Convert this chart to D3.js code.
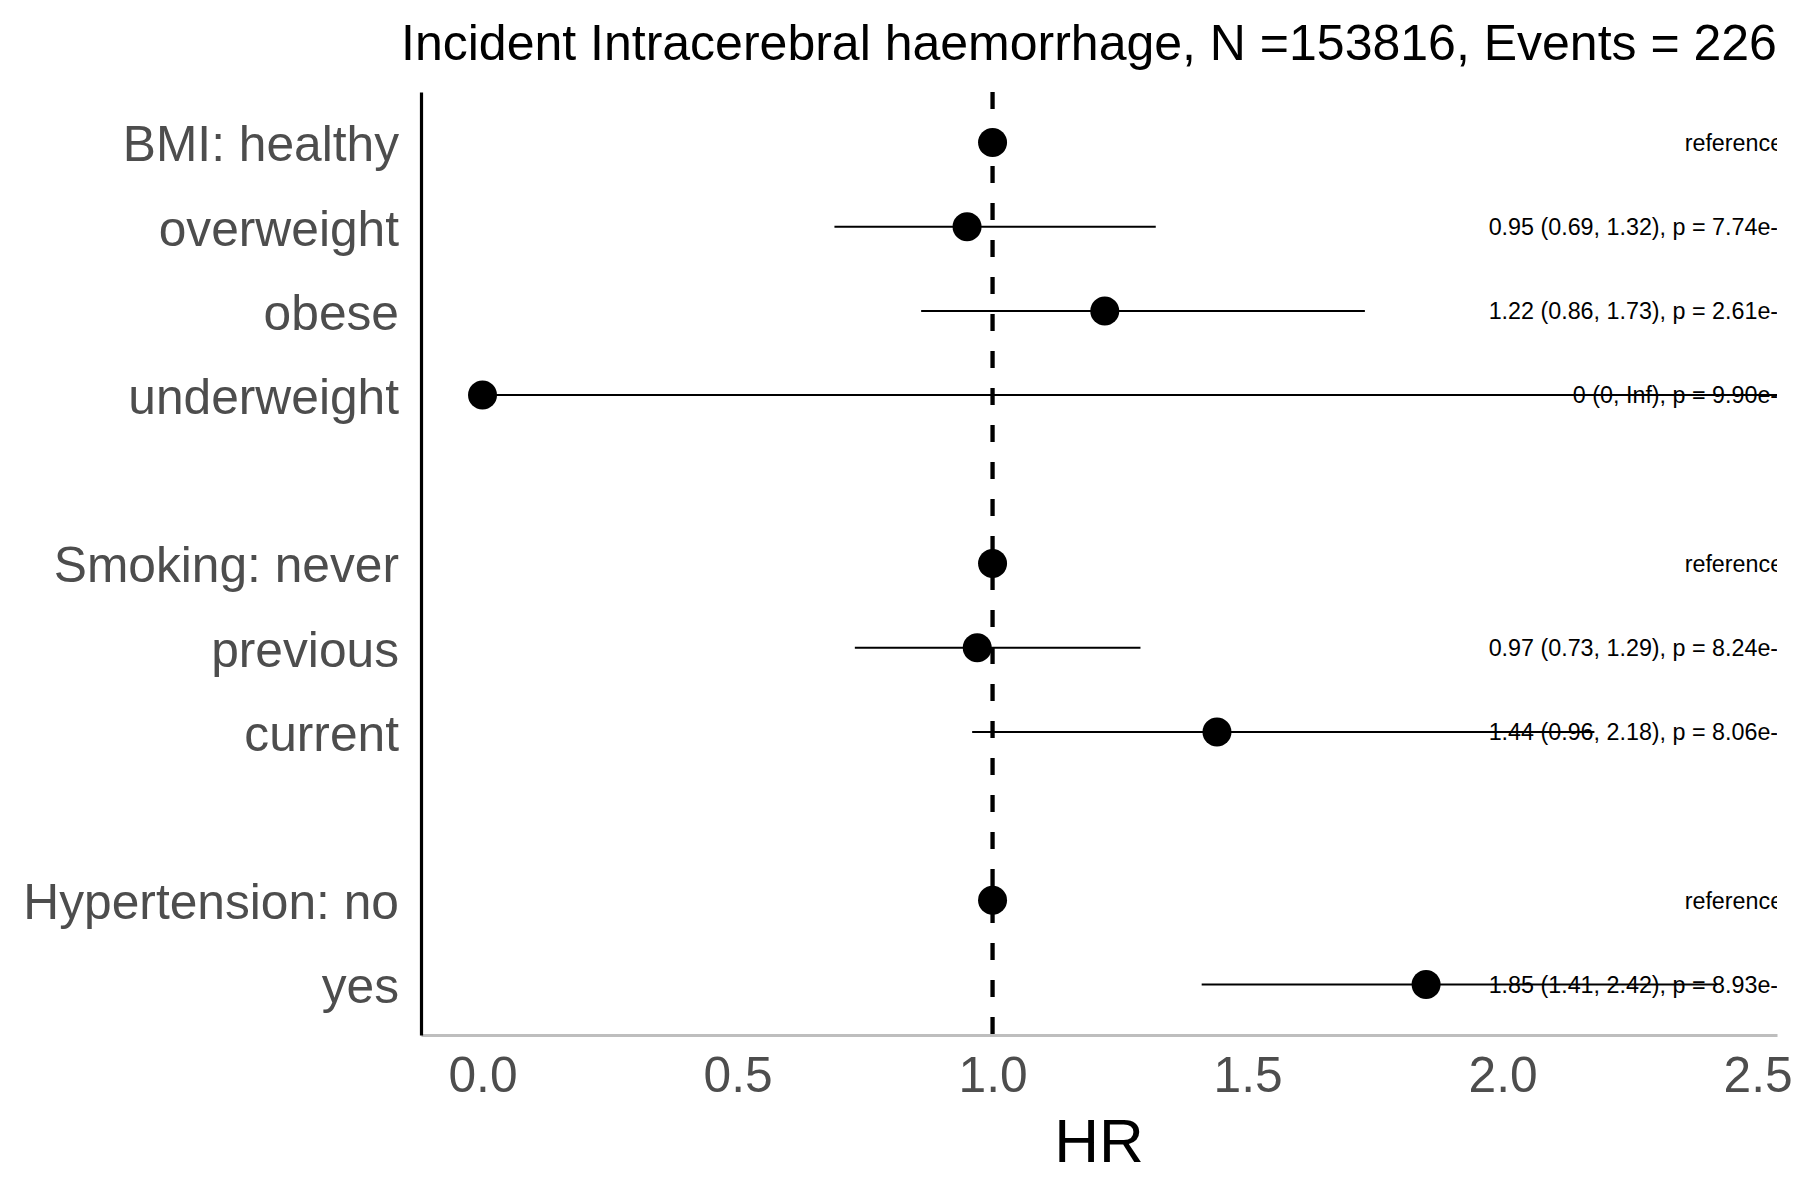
<!DOCTYPE html>
<html>
<head>
<meta charset="utf-8">
<script src="https://cdn.jsdelivr.net/npm/d3@7"></script>
<style>
  body { margin: 0; background: #fff; }
  text { font-family: "Liberation Sans", Arial, Helvetica, sans-serif; }
</style>
</head>
<body>
<svg id="viz"></svg>
<script>

// the data (blank rows separate the three groups)
var labels = ["BMI: healthy", "overweight", "obese", "underweight", "",
              "Smoking: never", "previous", "current", "",
              "Hypertension: no", "yes"];
var hr     = [1, 0.95, 1.22, 0, null, 1, 0.97, 1.44, null, 1, 1.85];
var lower  = [null, 0.69, 0.86, 0, null, null, 0.73, 0.96, null, null, 1.41];
var upper  = [null, 1.32, 1.73, Infinity, null, null, 1.29, 2.18, null, null, 2.42];
var pvals  = [null, "7.74e-01", "2.61e-01", "9.90e-01", null, null, "8.24e-01", "8.06e-02", null, null, "8.93e-06"];
var xTicks = [0, 0.5, 1, 1.5, 2, 2.5];

var title = "Incident Intracerebral haemorrhage, N =153816, Events = 226";
var xTitle = "HR";


// set up the svg
var w = 1800;
var h = 1200;
var pLeft = 421, pRight = 1777, pTop = 92, pBottom = 1035;
var viz = d3.select("#viz").attr("width", w).attr("height", h);
viz.append("rect").attr("width", w).attr("height", h).attr("fill", "#fff");

viz.append("clipPath").attr("id", "panel")
	.append("rect")
	.attr("x", pLeft).attr("y", pTop)
	.attr("width", pRight - pLeft).attr("height", pBottom - pTop);


// scales
var x = d3.scaleLinear().domain([-0.1206, 2.538]).range([pLeft, pRight]);
var y = d3.scalePoint().domain(d3.range(labels.length)).range([pTop, pBottom]).padding(0.6);

function fmt(v) {
	return v === Infinity ? "Inf" : String(v);
}

var rows = labels.map(function(d, i) {
	return {label: d, hr: hr[i], lo: lower[i], hi: upper[i], p: pvals[i], i: i};
});
var marks = rows.filter(function(d) { return d.hr !== null; });


// plot contents, clipped to the panel
var g = viz.append("g").attr("clip-path", "url(#panel)");

// reference line at HR = 1
g.append("line")
	.attr("x1", x(1)).attr("x2", x(1))
	.attr("y1", pTop).attr("y2", pBottom)
	.attr("stroke", "#000")
	.attr("stroke-width", 4.3)
	.attr("stroke-dasharray", "17,20");

// confidence intervals
g.selectAll("line.ci")
	.data(marks.filter(function(d) { return d.lo !== null; }))
	.enter()
	.append("line")
	.attr("class", "ci")
	.attr("x1", function(d) { return x(d.lo); })
	.attr("x2", function(d) { return d.hi === Infinity ? pRight + 10 : x(d.hi); })
	.attr("y1", function(d) { return y(d.i); })
	.attr("y2", function(d) { return y(d.i); })
	.attr("stroke", "#000")
	.attr("stroke-width", 2);

// the estimates
g.selectAll("circle")
	.data(marks)
	.enter()
	.append("circle")
	.attr("cx", function(d) { return x(d.hr); })
	.attr("cy", function(d) { return y(d.i); })
	.attr("r", 14.5)
	.attr("fill", "#000");

// the annotations, right aligned past the panel edge so their ends get cut
g.selectAll("text.note")
	.data(marks)
	.enter()
	.append("text")
	.attr("class", "note")
	.attr("x", function(d) { return d.lo === null ? x(2.55) : x(2.591); })
	.attr("y", function(d) { return y(d.i); })
	.attr("dy", "0.36em")
	.attr("text-anchor", "end")
	.attr("font-size", "23.3px")
	.attr("fill", "#000")
	.text(function(d) {
		if (d.lo === null) return "reference";
		return fmt(d.hr) + " (" + fmt(d.lo) + ", " + fmt(d.hi) + "), p = " + d.p;
	});


// axes
var xAxis = viz.append("g")
	.attr("transform", "translate(0," + pBottom + ")")
	.call(d3.axisBottom(x).tickValues(xTicks).tickFormat(d3.format(".1f")).tickSize(0).tickPadding(22));
xAxis.select(".domain").attr("stroke", "#bebebe").attr("stroke-width", 3.2);
xAxis.selectAll("text")
	.attr("font-size", "49.7px")
	.attr("fill", "#4d4d4d");

var yAxis = viz.append("g")
	.attr("transform", "translate(" + pLeft + ",0)")
	.call(d3.axisLeft(y).tickFormat(function(i) { return labels[i]; }).tickSize(0).tickPadding(22));
yAxis.select(".domain").attr("stroke", "#000").attr("stroke-width", 3.2);
yAxis.selectAll("text")
	.attr("dy", "0.37em")
	.attr("font-size", "49.7px")
	.attr("fill", "#4d4d4d");


// titles
viz.append("text")
	.attr("x", 1089)
	.attr("y", 60)
	.attr("text-anchor", "middle")
	.attr("font-size", "50px")
	.attr("fill", "#000")
	.text(title);

viz.append("text")
	.attr("x", (pLeft + pRight) / 2)
	.attr("y", 1162)
	.attr("text-anchor", "middle")
	.attr("font-size", "62px")
	.attr("fill", "#000")
	.text(xTitle);

</script>
</body>
</html>
